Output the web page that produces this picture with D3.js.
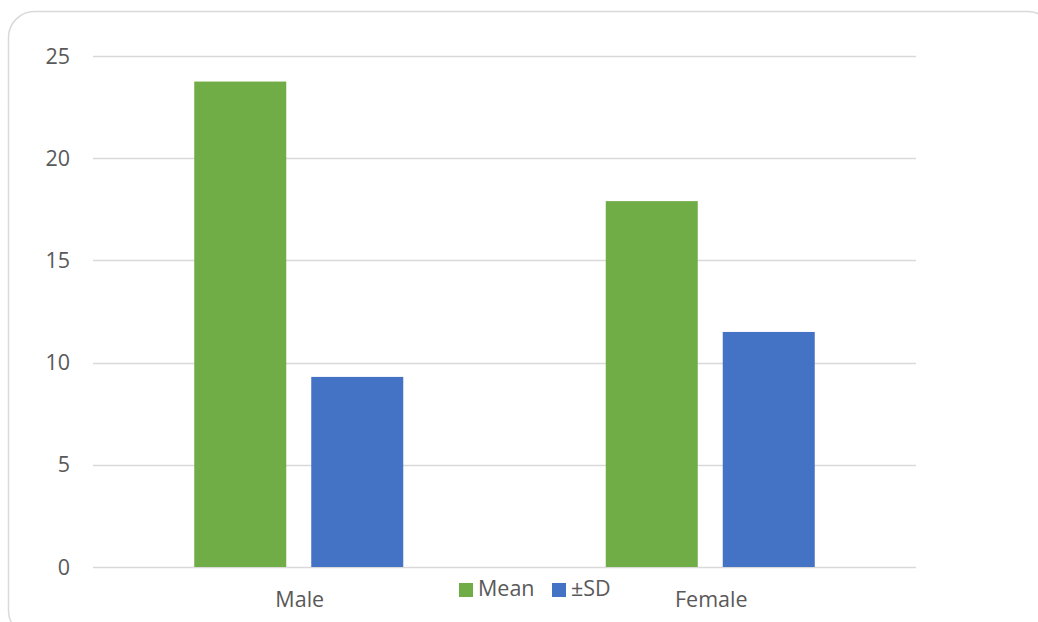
<!DOCTYPE html>
<html>
<head>
<meta charset="utf-8">
<script src="https://cdn.jsdelivr.net/npm/d3@7"></script>
<style>
  body { margin: 0; background: #fff; }
  svg { display: block; font-family: "Open Sans", "Noto Sans", sans-serif; }
</style>
</head>
<body>
<div id="chart"></div>
<script>
// chart data
const categories = ["Male", "Female"];
const seriesNames = ["Mean", "±SD"];
const meanValues = [23.75, 17.9];
const sdValues = [9.3, 11.5];
const yTicks = [0, 5, 10, 15, 20, 25];
const colors = ["#70AD47", "#4472C4"];

const width = 1038, height = 622;
const margin = {top: 56, right: 122, bottom: 55, left: 93};
const fontSize = "21.5px";

const svg = d3.select("#chart").append("svg")
    .attr("width", width)
    .attr("height", height);

// outer frame
svg.append("rect")
    .attr("x", 8.5).attr("y", 11.5)
    .attr("width", 1045).attr("height", 625)
    .attr("rx", 26)
    .attr("fill", "#fff")
    .attr("stroke", "#d9d9d9")
    .attr("stroke-width", 1.5);

const x0 = d3.scaleBand()
    .domain(categories)
    .range([margin.left, width - margin.right]);

const y = d3.scaleLinear()
    .domain([0, 25])
    .range([height - margin.bottom, margin.top]);

// gridlines
svg.append("g")
    .selectAll("line")
    .data(yTicks)
    .join("line")
    .attr("x1", margin.left)
    .attr("x2", width - margin.right)
    .attr("y1", d => Math.round(y(d)) + 0.5)
    .attr("y2", d => Math.round(y(d)) + 0.5)
    .attr("stroke", "#d9d9d9")
    .attr("stroke-width", 1.3);

// y tick labels
svg.append("g")
    .selectAll("text")
    .data(yTicks)
    .join("text")
    .attr("x", 70)
    .attr("y", d => y(d))
    .attr("dy", "0.35em")
    .attr("text-anchor", "end")
    .attr("fill", "#595959")
    .style("font-size", fontSize)
    .text(d => d);

// bars
const barW = 92, gap = 25;
const rows = categories.map((c, i) => ({cat: c, values: [meanValues[i], sdValues[i]]}));

const groups = svg.append("g")
    .selectAll("g")
    .data(rows)
    .join("g")
    .attr("transform", d => `translate(${x0(d.cat) + x0.bandwidth() / 2 - (barW * 2 + gap) / 2},0)`);

groups.selectAll("rect")
    .data(d => d.values)
    .join("rect")
    .attr("x", (d, i) => i * (barW + gap))
    .attr("y", d => y(d))
    .attr("width", barW)
    .attr("height", d => y(0) - y(d))
    .attr("fill", (d, i) => colors[i]);

// category labels
svg.append("g")
    .selectAll("text")
    .data(categories)
    .join("text")
    .attr("x", d => x0(d) + x0.bandwidth() / 2 + 1)
    .attr("y", 607)
    .attr("text-anchor", "middle")
    .attr("fill", "#595959")
    .style("font-size", fontSize)
    .text(d => d);

// legend
const legendX = [459, 552];
const legend = svg.append("g")
    .selectAll("g")
    .data(seriesNames)
    .join("g")
    .attr("transform", (d, i) => `translate(${legendX[i]},583)`);

legend.append("rect")
    .attr("width", 14).attr("height", 14)
    .attr("fill", (d, i) => colors[i]);

legend.append("text")
    .attr("x", 19)
    .attr("y", 13)
    .attr("fill", "#595959")
    .style("font-size", fontSize)
    .text(d => d);
</script>
</body>
</html>
